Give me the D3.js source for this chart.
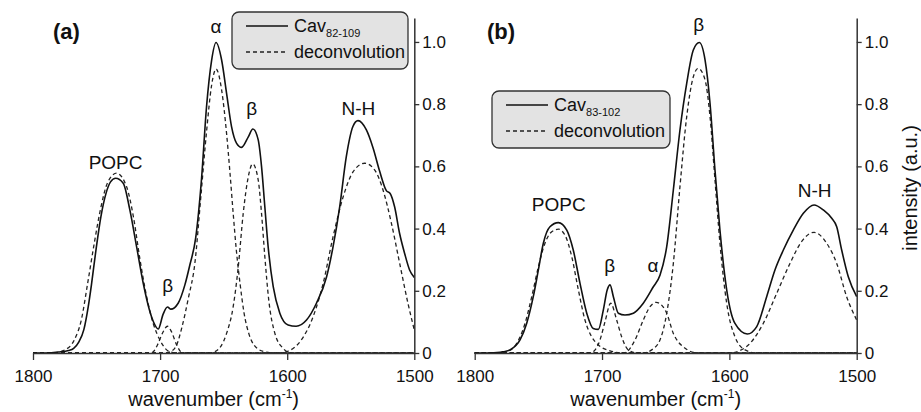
<!DOCTYPE html>
<html><head><meta charset="utf-8">
<script src="https://cdn.jsdelivr.net/npm/d3@7"></script>
<style>
body{margin:0;background:#fff}
svg{display:block}
text{font-family:"Liberation Sans",Arial,Helvetica,sans-serif;fill:#111}
</style></head>
<body><svg id="chart" width="921" height="412"></svg>
<script>
// ---------- DATA (wavenumber cm-1, normalised intensity) ----------
const xTicks = [1800, 1700, 1600, 1500];
const yTicks = [0, 0.2, 0.4, 0.6, 0.8, 1.0];

// Panel (a): Cav82-109
const totalA = [[1800,0],[1790,0],[1780,0.003],[1772,0.008],[1768,0.015],[1764,0.035],[1760,0.075],[1756.5,0.15],[1754,0.22],[1750.5,0.33],[1746.5,0.44],[1742.5,0.514],[1739,0.55],[1735,0.562],[1729,0.546],[1723.8,0.46],[1718.5,0.342],[1713.3,0.225],[1708.5,0.14],[1705,0.098],[1701.5,0.077],[1697.6,0.125],[1694.2,0.148],[1691.5,0.141],[1685.8,0.16],[1680.5,0.219],[1676.6,0.283],[1672,0.37],[1667.4,0.56],[1663.5,0.79],[1659.5,0.94],[1656,0.998],[1651.6,0.942],[1647.7,0.835],[1643.8,0.728],[1639.8,0.674],[1635.9,0.661],[1630.6,0.695],[1627,0.72],[1622.8,0.685],[1620.2,0.6],[1617.6,0.47],[1615,0.342],[1611,0.213],[1605.8,0.128],[1599.3,0.09],[1593,0.086],[1584.8,0.106],[1577,0.16],[1569,0.245],[1563.9,0.342],[1558.7,0.47],[1553.5,0.631],[1548.3,0.728],[1544.3,0.747],[1537.7,0.717],[1532.5,0.66],[1527.3,0.585],[1522,0.522],[1519,0.513],[1515.5,0.47],[1511.6,0.385],[1507.6,0.32],[1503.7,0.267],[1500,0.243]];
const popcA = [[1800,0],[1785,0],[1775,0.01],[1767.5,0.042],[1762,0.106],[1757,0.224],[1751.8,0.353],[1746.5,0.47],[1741.5,0.546],[1734.2,0.578],[1726.4,0.535],[1721,0.438],[1715.8,0.3],[1710.6,0.181],[1705.4,0.095],[1700.2,0.042],[1692.3,0.004],[1685,0],[1500,0]];
const betaLowA = [[1800,0],[1708,0],[1705.4,0.004],[1701.5,0.031],[1698,0.065],[1694.2,0.086],[1691,0.068],[1687,0.026],[1683,0.002],[1680,0],[1500,0]];
const alphaA = [[1800,0],[1697,0],[1692,0.004],[1687,0.026],[1683,0.08],[1677.8,0.176],[1672.6,0.29],[1668,0.5],[1663.5,0.71],[1659.5,0.86],[1656,0.913],[1651.6,0.846],[1647.7,0.706],[1645,0.578],[1642.5,0.449],[1640,0.33],[1637,0.22],[1634,0.13],[1630,0.06],[1626,0.025],[1618,0.004],[1610,0],[1500,0]];
const betaA = [[1800,0],[1662,0],[1657,0.004],[1647.7,0.063],[1642.5,0.149],[1638.5,0.277],[1634.6,0.449],[1630.6,0.567],[1627.2,0.608],[1622.8,0.556],[1620.2,0.449],[1617.6,0.31],[1614.5,0.17],[1609.7,0.063],[1603.2,0.015],[1597,0],[1500,0]];
const nhA = [[1800,0],[1606,0],[1600.5,0.004],[1590,0.036],[1579.6,0.117],[1571.7,0.224],[1563.9,0.374],[1555.9,0.503],[1548.1,0.583],[1539,0.61],[1531.1,0.588],[1524.6,0.524],[1518,0.417],[1511.5,0.288],[1505,0.16],[1500,0.074]];

// Panel (b): Cav83-102
const totalB = [[1800,0],[1790,0],[1780,0.002],[1777.5,0.004],[1772.3,0.01],[1764.4,0.042],[1759.2,0.095],[1754,0.181],[1750,0.267],[1746.1,0.353],[1740.9,0.406],[1734.3,0.419],[1727.7,0.395],[1722.6,0.331],[1717.3,0.224],[1712,0.128],[1706.9,0.079],[1702.9,0.076],[1699,0.138],[1695.9,0.203],[1693.7,0.219],[1691.1,0.181],[1687.2,0.128],[1682,0.122],[1675.4,0.128],[1667.6,0.16],[1659.7,0.213],[1654.5,0.25],[1649.2,0.342],[1644,0.524],[1638.8,0.717],[1633.5,0.867],[1628.3,0.974],[1623.6,0.998],[1619.1,0.942],[1615.2,0.803],[1611.3,0.588],[1607.4,0.395],[1602.1,0.203],[1595.6,0.095],[1585.9,0.061],[1578.5,0.085],[1570.7,0.181],[1564.2,0.267],[1557.6,0.331],[1549.8,0.395],[1541.9,0.449],[1533.5,0.476],[1526.2,0.46],[1519.6,0.433],[1515.7,0.406],[1511.8,0.331],[1506.6,0.245],[1500,0.181]];
const popcB = [[1800,0],[1780,0],[1774.9,0.004],[1767,0.031],[1760.5,0.095],[1755.2,0.181],[1750,0.277],[1744.8,0.353],[1739.5,0.39],[1734.3,0.398],[1729.1,0.379],[1723.8,0.31],[1718.6,0.203],[1713.4,0.106],[1708.1,0.052],[1702.9,0.026],[1693.7,0.007],[1683.3,0],[1500,0]];
const betaLowB = [[1800,0],[1710,0],[1706.9,0.004],[1701.6,0.042],[1697.7,0.1],[1693.2,0.16],[1688.5,0.106],[1684.6,0.052],[1679.4,0.01],[1672.8,0],[1500,0]];
const alphaB = [[1800,0],[1684,0],[1680.6,0.004],[1674.1,0.042],[1667.6,0.106],[1662.3,0.149],[1657.5,0.163],[1653,0.153],[1649.2,0.128],[1644,0.063],[1640,0.035],[1636.2,0.02],[1628,0.002],[1620,0],[1500,0]];
const betaB = [[1800,0],[1668,0],[1661,0.01],[1654.5,0.042],[1649.2,0.128],[1644,0.288],[1638.8,0.535],[1633.5,0.76],[1628.3,0.888],[1624.4,0.915],[1619.1,0.878],[1615.2,0.76],[1611.3,0.556],[1607.4,0.353],[1602.1,0.16],[1595.6,0.052],[1587.7,0.01],[1578.5,0],[1500,0]];
const nhB = [[1800,0],[1600,0],[1594.2,0.004],[1583.8,0.031],[1573.4,0.095],[1562.8,0.192],[1552.4,0.288],[1543.3,0.358],[1533.5,0.388],[1523.6,0.353],[1515.7,0.288],[1507.9,0.181],[1500,0.106]];

// Band labels: [text, wavenumber, intensity-level]
const labelsA = [["POPC",1735,0.59],["β",1694,0.195],["α",1656,1.03],["β",1628,0.765],["N-H",1544,0.765]];
const labelsB = [["POPC",1734,0.455],["β",1694,0.26],["α",1660,0.26],["β",1624,1.035],["N-H",1533,0.5]];

// ---------- DRAWING ----------
const svg = d3.select("#chart");
const yMax = 1.077;
const y = d3.scaleLinear().domain([0, yMax]).range([353, 18]);

const panels = [
  {tag:"(a)", total: totalA, comps:[popcA, betaLowA, alphaA, betaA, nhA], labels: labelsA,
   x0: 33, x1: 414.3, sub: "82-109", legend: {x: 232, y: 12, w: 176, h: 57}, tagX: 53},
  {tag:"(b)", total: totalB, comps:[popcB, betaLowB, alphaB, betaB, nhB], labels: labelsB,
   x0: 474.7, x1: 856.7, sub: "83-102", legend: {x: 492, y: 91, w: 178, h: 57}, tagX: 487}
];

panels.forEach((p, i) => {
  const x = d3.scaleLinear().domain([1800, 1500]).range([p.x0, p.x1]);
  const g = svg.append("g");
  const line = d3.line().x(d => x(d[0])).y(d => y(d[1])).curve(d3.curveMonotoneX);

  // deconvolution components
  p.comps.forEach(c => {
    g.append("path").attr("d", line(c)).attr("fill", "none")
      .attr("stroke", "#222").attr("stroke-width", 1.3).attr("stroke-dasharray", "4,3");
  });
  // measured spectrum
  g.append("path").attr("d", line(p.total)).attr("fill", "none")
    .attr("stroke", "#111").attr("stroke-width", 1.6);

  // bottom axis
  const xa = g.append("g").attr("transform", `translate(0,${y(0)})`)
    .call(d3.axisBottom(x).tickValues(xTicks).tickFormat(d3.format("d")).tickSize(7).tickSizeOuter(0).tickPadding(10));
  // right axis
  const ya = g.append("g").attr("transform", `translate(${p.x1},0)`)
    .call(d3.axisRight(y).tickValues(yTicks).tickFormat(d => d === 0 ? "0" : d3.format(".1f")(d)).tickSize(5).tickSizeOuter(0).tickPadding(3));
  [xa, ya].forEach(a => {
    a.select(".domain").attr("stroke", "#333").attr("stroke-width", 1.5);
    a.selectAll(".tick line").attr("stroke", "#333").attr("stroke-width", 1.3);
    a.selectAll(".tick text").attr("font-size", 17).attr("fill", "#111")
      .style("font-family", '"Liberation Sans",Arial,sans-serif');
  });

  // x axis title
  const t = g.append("text").attr("x", (p.x0 + p.x1) / 2 - 10).attr("y", 406)
    .attr("text-anchor", "middle").attr("font-size", 20);
  t.append("tspan").text("wavenumber (cm");
  t.append("tspan").attr("dy", -8).attr("font-size", 12).text("-1");
  t.append("tspan").attr("dy", 8).text(")");

  // panel tag
  g.append("text").attr("x", p.tagX).attr("y", 39).attr("font-size", 22)
    .attr("font-weight", "bold").text(p.tag);

  // band labels
  p.labels.forEach(l => {
    g.append("text").attr("x", x(l[1])).attr("y", y(l[2])).attr("text-anchor", "middle")
      .attr("font-size", 19).text(l[0]);
  });

  // legend
  const L = p.legend;
  const lg = g.append("g").attr("transform", `translate(${L.x},${L.y})`);
  lg.append("rect").attr("width", L.w).attr("height", L.h).attr("rx", 7)
    .attr("fill", "#e3e3e3").attr("stroke", "#333").attr("stroke-width", 1.3);
  lg.append("line").attr("x1", 14).attr("x2", 56).attr("y1", 14).attr("y2", 14)
    .attr("stroke", "#111").attr("stroke-width", 1.5);
  lg.append("line").attr("x1", 14).attr("x2", 56).attr("y1", 40).attr("y2", 40)
    .attr("stroke", "#222").attr("stroke-width", 1.3).attr("stroke-dasharray", "4,3");
  const lt = lg.append("text").attr("x", 62).attr("y", 20).attr("font-size", 18);
  lt.append("tspan").text("Cav");
  lt.append("tspan").attr("dy", 5).attr("font-size", 11).text(p.sub);
  lg.append("text").attr("x", 62).attr("y", 46).attr("font-size", 18).text("deconvolution");
});

// y axis title (panel b)
svg.append("text").attr("transform", "translate(917,188) rotate(-90)")
  .attr("text-anchor", "middle").attr("font-size", 20).text("intensity (a.u.)");
</script>
</body></html>
